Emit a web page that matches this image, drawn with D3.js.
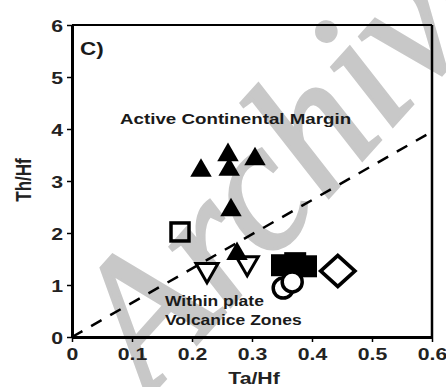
<!DOCTYPE html>
<html>
<head>
<meta charset="utf-8">
<script src="https://cdn.jsdelivr.net/npm/d3@7"></script>
<style>
  body { margin: 0; background: #fff; }
  svg { display: block; font-family: "Liberation Sans", Arial, sans-serif; }
</style>
</head>
<body>
<svg id="chart" width="446" height="387"></svg>
<script>
// data
const xTicks = [0, 0.1, 0.2, 0.3, 0.4, 0.5, 0.6];
const yTicks = [0, 1, 2, 3, 4, 5, 6];
const boundary = [[0, 0], [0.6, 3.95]];

const filledTriangles = [[0.215, 3.2], [0.26, 3.5], [0.262, 3.22], [0.305, 3.42], [0.265, 2.44], [0.275, 1.6]];
const openSquares = [[0.18, 2.02]];
const openDownTriangles = [[0.225, 1.29], [0.292, 1.42]];
const filledSquares = [[0.35, 1.38], [0.372, 1.42], [0.39, 1.36]];
const openCircles = [[0.352, 0.94], [0.367, 1.06]];
const openDiamonds = [[0.443, 1.27]];

const margin = {top: 25, right: 14, bottom: 50, left: 72};
const width = 446, height = 387;
const stretch = 1.25; // the figure is drawn a bit wider than tall

const svg = d3.select('#chart');

// watermark
svg.append('text')
  .attr('transform', 'translate(150,396) rotate(-48)')
  .attr('font-family', '"Liberation Serif", "Times New Roman", serif')
  .attr('font-style', 'italic')
  .attr('font-size', 185)
  .attr('fill', '#c8c8c8')
  .attr('stroke', '#c8c8c8')
  .attr('stroke-width', 3)
  .text('Archive');

const x = d3.scaleLinear().domain([0, 0.6]).range([margin.left, width - margin.right]);
const y = d3.scaleLinear().domain([0, 6]).range([height - margin.bottom, margin.top]);

const g = svg.append('g');

// box
g.append('line').attr('x1', x(0)).attr('x2', x(0.6)).attr('y1', y(6)).attr('y2', y(6))
  .attr('stroke', '#000').attr('stroke-width', 2);
g.append('line').attr('x1', x(0.6)).attr('x2', x(0.6)).attr('y1', y(6)).attr('y2', y(0))
  .attr('stroke', '#000').attr('stroke-width', 2.5);

// axes
const xAxis = g.append('g')
  .attr('transform', `translate(0,${y(0)})`)
  .call(d3.axisBottom(x).tickValues(xTicks).tickFormat(d3.format('')).tickSizeInner(5).tickSizeOuter(0).tickPadding(6));
const yAxis = g.append('g')
  .attr('transform', `translate(${x(0)},0)`)
  .call(d3.axisLeft(y).tickValues(yTicks).tickFormat(d3.format('')).tickSizeInner(5).tickSizeOuter(0).tickPadding(4));

[xAxis, yAxis].forEach(a => {
  a.select('.domain').attr('stroke-width', 3);
  a.selectAll('.tick line').attr('stroke-width', 1.5);
  a.selectAll('.tick text')
    .attr('font-size', 17).attr('font-weight', 'bold').attr('fill', '#222')
    .attr('font-family', '"Liberation Sans", Arial, sans-serif');
});
xAxis.selectAll('.tick text').attr('transform', `scale(${stretch},1)`);
yAxis.selectAll('.tick text').attr('dy', '0.36em')
  .attr('x', -9 / stretch).attr('transform', `scale(${stretch},1)`);

// axis titles
svg.append('text')
  .attr('transform', `translate(${(x(0) + x(0.6)) / 2 + 2},384) scale(${stretch},1)`)
  .attr('text-anchor', 'middle').attr('font-size', 17).attr('font-weight', 'bold').attr('fill', '#222')
  .text('Ta/Hf');
svg.append('text')
  .attr('transform', `translate(31,${y(3.02)}) scale(${stretch},1) rotate(-90)`)
  .attr('text-anchor', 'middle').attr('font-size', 17).attr('font-weight', 'bold').attr('fill', '#222')
  .text('Th/Hf');

// labels
const label = (tx, ty, size, s) => svg.append('text')
  .attr('transform', `translate(${tx},${ty}) scale(${stretch},1)`)
  .attr('font-size', size).attr('font-weight', 'bold').attr('fill', '#1a1a1a').text(s);
label(80, 55, 18, 'C)');
label(120, 124, 15, 'Active Continental Margin');
label(165, 306, 14, 'Within plate');
label(165, 325, 14, 'Volcanice Zones');

// boundary line
g.append('path')
  .attr('d', d3.line().x(d => x(d[0])).y(d => y(d[1]))(boundary))
  .attr('fill', 'none').attr('stroke', '#000').attr('stroke-width', 2.5)
  .attr('stroke-dasharray', '12,10');

// markers
const sym = (type, size) => d3.symbol().type(type).size(size)();

g.selectAll('.osq').data(openSquares).join('rect')
  .attr('x', d => x(d[0]) - 9).attr('y', d => y(d[1]) - 9).attr('width', 18).attr('height', 18)
  .attr('fill', 'none').attr('stroke', '#000').attr('stroke-width', 3.5);

g.selectAll('.odt').data(openDownTriangles).join('path')
  .attr('transform', d => `translate(${x(d[0])},${y(d[1])}) rotate(180)`)
  .attr('d', sym(d3.symbolTriangle, 210))
  .attr('fill', '#fff').attr('stroke', '#000').attr('stroke-width', 3);

g.selectAll('.ftr').data(filledTriangles).join('path')
  .attr('transform', d => `translate(${x(d[0])},${y(d[1])})`)
  .attr('d', sym(d3.symbolTriangle, 200))
  .attr('fill', '#000');

g.selectAll('.fsq').data(filledSquares).join('rect')
  .attr('x', d => x(d[0]) - 11).attr('y', d => y(d[1]) - 11).attr('width', 22).attr('height', 22)
  .attr('fill', '#000');

g.selectAll('.oci').data(openCircles).join('circle')
  .attr('cx', d => x(d[0])).attr('cy', d => y(d[1])).attr('r', 10)
  .attr('fill', '#fff').attr('stroke', '#000').attr('stroke-width', 3.5);

g.selectAll('.odi').data(openDiamonds).join('path')
  .attr('transform', d => `translate(${x(d[0])},${y(d[1])}) scale(1.1,1) rotate(45)`)
  .attr('d', 'M-11,-11H11V11H-11Z')
  .attr('fill', '#fff').attr('stroke', '#000').attr('stroke-width', 3.5);
</script>
</body>
</html>
